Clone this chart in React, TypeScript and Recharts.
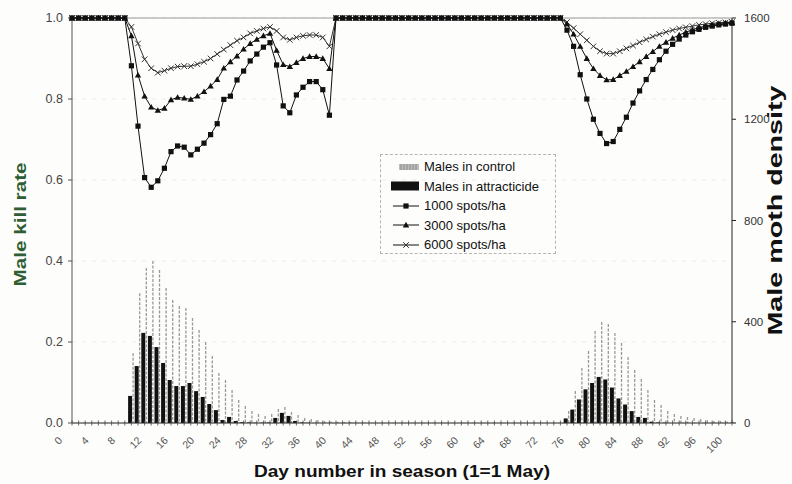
import React from 'react';
import {
  ComposedChart,
  Bar,
  Line,
  XAxis,
  YAxis,
  CartesianGrid,
  ReferenceLine,
  Label
} from 'recharts';

// day axis 0..100, ticks at every day, labels every 4th day
const days = Array.from({ length: 101 }, (_, i) => i);
const killTicks = [0, 0.2, 0.4, 0.6, 0.8, 1.0];
const densityTicks = [0, 400, 800, 1200, 1600];

// kill rate is 1.0 on days without moths
const noMothKillRate = 1.0;

// first flight (days 9..44)
const firstStart = 9;
const controlFirst = [276, 513, 612, 640, 604, 533, 486, 462, 454, 415, 367, 320, 265, 198, 170, 130, 91, 67, 47, 36, 28, 36, 55, 63, 43, 32, 20, 16, 12, 8, 6, 5, 4, 3, 2, 2];
const attractFirst = [107, 225, 356, 344, 300, 237, 170, 146, 146, 158, 126, 103, 75, 51, 12, 24, 8, 3, 2, 1, 1, 2, 20, 40, 28, 8, 2, 1, 0, 0, 0, 0, 0, 0, 0, 0];
// days 9..39
const kill1000First = [0.882, 0.733, 0.606, 0.582, 0.598, 0.629, 0.67, 0.684, 0.681, 0.662, 0.676, 0.691, 0.712, 0.739, 0.799, 0.807, 0.847, 0.869, 0.894, 0.911, 0.928, 0.939, 0.884, 0.783, 0.766, 0.81, 0.829, 0.843, 0.843, 0.823, 0.76];
const kill3000First = [0.956, 0.859, 0.807, 0.78, 0.772, 0.777, 0.798, 0.804, 0.802, 0.799, 0.807, 0.818, 0.832, 0.848, 0.876, 0.892, 0.906, 0.923, 0.937, 0.947, 0.956, 0.962, 0.92, 0.885, 0.88, 0.89, 0.9, 0.905, 0.905, 0.9, 0.875];
const kill6000First = [0.978, 0.937, 0.898, 0.876, 0.865, 0.87, 0.876, 0.88, 0.881, 0.881, 0.886, 0.892, 0.9, 0.911, 0.922, 0.933, 0.944, 0.952, 0.962, 0.968, 0.974, 0.978, 0.968, 0.952, 0.946, 0.952, 0.956, 0.958, 0.958, 0.952, 0.93];

// second flight (days 75..100)
const secondStart = 75;
const controlSecond = [47, 126, 217, 284, 363, 399, 391, 356, 316, 261, 209, 174, 130, 91, 71, 47, 36, 28, 24, 20, 16, 12, 8, 8, 6, 4];
const attractSecond = [18, 53, 93, 133, 158, 182, 172, 140, 97, 73, 47, 24, 20, 5, 2, 1, 0, 0, 0, 0, 0, 0, 0, 0, 0, 0];
const kill1000Second = [0.97, 0.93, 0.86, 0.8, 0.75, 0.715, 0.69, 0.695, 0.725, 0.755, 0.79, 0.82, 0.848, 0.873, 0.897, 0.918, 0.935, 0.948, 0.958, 0.966, 0.972, 0.977, 0.98, 0.983, 0.985, 0.987];
const kill3000Second = [0.985, 0.96, 0.93, 0.9, 0.875, 0.858, 0.847, 0.848, 0.858, 0.868, 0.88, 0.892, 0.905, 0.917, 0.93, 0.94, 0.95, 0.958, 0.965, 0.971, 0.976, 0.98, 0.983, 0.986, 0.988, 0.989];
const kill6000Second = [0.99, 0.975, 0.96, 0.945, 0.93, 0.918, 0.912, 0.912, 0.918, 0.925, 0.932, 0.94, 0.947, 0.954, 0.96, 0.965, 0.97, 0.974, 0.977, 0.98, 0.983, 0.985, 0.987, 0.988, 0.989, 0.99];

const pick = (first: number[], second: number[], day: number, fallback: number) => {
  if (day >= firstStart && day - firstStart < first.length) return first[day - firstStart];
  if (day >= secondStart && day - secondStart < second.length) return second[day - secondStart];
  return fallback;
};

const data = days.map((day) => ({
  day,
  control: pick(controlFirst, controlSecond, day, 0),
  attract: pick(attractFirst, attractSecond, day, 0),
  k1000: pick(kill1000First, kill1000Second, day, noMothKillRate),
  k3000: pick(kill3000First, kill3000Second, day, noMothKillRate),
  k6000: pick(kill6000First, kill6000Second, day, noMothKillRate)
}));

const FONT = '"Liberation Sans", Arial, sans-serif';

const SquareDot = (props: any) => {
  const { cx, cy } = props;
  if (cx == null || cy == null) return null;
  return <rect x={cx - 2.6} y={cy - 2.6} width={5.2} height={5.2} fill="#111" />;
};

const TriangleDot = (props: any) => {
  const { cx, cy } = props;
  if (cx == null || cy == null) return null;
  return <path d={`M${cx},${cy - 3.2}L${cx + 3.2},${cy + 2.4}L${cx - 3.2},${cy + 2.4}Z`} fill="#111" />;
};

const CrossDot = (props: any) => {
  const { cx, cy } = props;
  if (cx == null || cy == null) return null;
  return (
    <path
      d={`M${cx - 2.8},${cy - 2.8}L${cx + 2.8},${cy + 2.8}M${cx - 2.8},${cy + 2.8}L${cx + 2.8},${cy - 2.8}`}
      stroke="#333"
      strokeWidth={1}
    />
  );
};

// thin hatched-looking bar for control males
const HatchBar = (props: any) => {
  const { x, y, width, height } = props;
  if (!height || height <= 0) return null;
  return (
    <line
      x1={x + width / 2}
      x2={x + width / 2}
      y1={y}
      y2={y + height}
      stroke="#999"
      strokeWidth={1.3}
      strokeDasharray="3 1.5"
    />
  );
};

const DayTick = (props: any) => {
  const { x, y, payload } = props;
  const v = payload.value;
  return (
    <g>
      <line x1={x} x2={x} y1={y - 2.5} y2={y + 2.5} stroke="#444" strokeWidth={0.8} />
      {v % 4 === 0 && (
        <text
          transform={`translate(${x - 9},${y + 18}) rotate(-45)`}
          textAnchor="end"
          fontSize={10.5}
          fontFamily={FONT}
          fill="#555"
        >
          {v}
        </text>
      )}
    </g>
  );
};

const Title = ({ text, cx, cy, angle, length, size, color }: any) => (
  <text
    x={cx}
    y={cy}
    transform={angle ? `rotate(${angle},${cx},${cy})` : undefined}
    textAnchor="middle"
    dominantBaseline="central"
    fontFamily={FONT}
    fontWeight="bold"
    fontSize={size}
    fill={color}
    textLength={length}
    lengthAdjust="spacingAndGlyphs"
  >
    {text}
  </text>
);

const LegendIcon = ({ kind }: { kind: string }) => (
  <svg width={32} height={12} style={{ marginRight: 3, flex: 'none' }}>
    {kind === 'control' && (
      <g>
        <rect x={10} y={3} width={20} height={6} fill="#bdbdbd" />
        <path d="M12,3V9M15,3V9M18,3V9M21,3V9M24,3V9M27,3V9" stroke="#8a8a8a" strokeWidth={1} />
      </g>
    )}
    {kind === 'attract' && <rect x={2} y={1.5} width={28} height={9} fill="#111" />}
    {kind !== 'control' && kind !== 'attract' && <line x1={4} x2={30} y1={6} y2={6} stroke="#111" strokeWidth={1} />}
    {kind === 'k1000' && <SquareDot cx={17} cy={6} />}
    {kind === 'k3000' && <TriangleDot cx={17} cy={6} />}
    {kind === 'k6000' && <CrossDot cx={17} cy={6} />}
  </svg>
);

const legendItems = [
  { kind: 'control', label: 'Males in control' },
  { kind: 'attract', label: 'Males in attracticide' },
  { kind: 'k1000', label: '1000 spots/ha' },
  { kind: 'k3000', label: '3000 spots/ha' },
  { kind: 'k6000', label: '6000 spots/ha' }
];

export default function App() {
  return (
    <div
      style={{
        position: 'absolute',
        left: 0,
        top: 0,
        width: 792,
        height: 484,
        background: '#fdfdfb',
        fontFamily: FONT
      }}
    >
      <ComposedChart
        width={792}
        height={484}
        data={data}
        margin={{ top: 18, right: 10, bottom: 6, left: 18 }}
        barGap={0}
        barCategoryGap={0}
      >
        <CartesianGrid
          yAxisId="left"
          vertical={false}
          horizontal
          stroke="#ececec"
          strokeDasharray="4 6"
        />
        <XAxis
          dataKey="day"
          type="number"
          domain={[0, 100]}
          ticks={days}
          interval={0}
          tick={<DayTick />}
          tickLine={false}
          tickSize={0}
          tickMargin={0}
          height={55}
          axisLine={{ stroke: '#222' }}
        >
          <Label
            content={(p: any) => (
              <Title
                text="Day number in season (1=1 May)"
                cx={p.viewBox.x + p.viewBox.width / 2}
                cy={p.viewBox.y + 48}
                length={296}
                size={17}
                color="#111"
              />
            )}
          />
        </XAxis>
        <YAxis
          yAxisId="left"
          domain={[0, 1]}
          ticks={killTicks}
          tickFormatter={(v: number) => v.toFixed(1)}
          width={54}
          tickSize={4}
          tickMargin={5}
          axisLine={{ stroke: '#555' }}
          tickLine={{ stroke: '#555' }}
          tick={{ fill: '#444', fontSize: 12.5, fontFamily: FONT }}
        >
          <Label
            content={(p: any) => (
              <Title
                text="Male kill rate"
                cx={p.viewBox.x + 2}
                cy={p.viewBox.y + p.viewBox.height / 2 + 4}
                angle={-90}
                length={124}
                size={16}
                color="#2f5e34"
              />
            )}
          />
        </YAxis>
        <YAxis
          yAxisId="right"
          orientation="right"
          domain={[0, 1600]}
          ticks={densityTicks}
          width={50}
          tickSize={4}
          tickMargin={8}
          axisLine={{ stroke: '#222' }}
          tickLine={{ stroke: '#222' }}
          tick={{ fill: '#333', fontSize: 11.5, fontFamily: FONT }}
        >
          <Label
            content={(p: any) => (
              <Title
                text="Male moth density"
                cx={p.viewBox.x + 43}
                cy={p.viewBox.y + p.viewBox.height / 2 - 10}
                angle={-90}
                length={250}
                size={20}
                color="#111"
              />
            )}
          />
        </YAxis>
        <ReferenceLine yAxisId="left" y={1} stroke="#999" strokeWidth={1} />

        <Bar yAxisId="right" dataKey="attract" fill="#111" barSize={4} isAnimationActive={false} />
        <Bar yAxisId="right" dataKey="control" fill="#999" barSize={2} shape={<HatchBar />} isAnimationActive={false} />

        <Line
          yAxisId="left"
          dataKey="k6000"
          stroke="#333"
          strokeWidth={1}
          dot={(p: any) => <CrossDot key={`c-${p.index}`} cx={p.cx} cy={p.cy} />}
          activeDot={false}
          isAnimationActive={false}
        />
        <Line
          yAxisId="left"
          dataKey="k3000"
          stroke="#111"
          strokeWidth={1}
          dot={(p: any) => <TriangleDot key={`t-${p.index}`} cx={p.cx} cy={p.cy} />}
          activeDot={false}
          isAnimationActive={false}
        />
        <Line
          yAxisId="left"
          dataKey="k1000"
          stroke="#111"
          strokeWidth={1}
          dot={(p: any) => <SquareDot key={`s-${p.index}`} cx={p.cx} cy={p.cy} />}
          activeDot={false}
          isAnimationActive={false}
        />
      </ComposedChart>

      <div
        style={{
          position: 'absolute',
          left: 380,
          top: 154,
          width: 176,
          height: 100,
          border: '1px dashed #b5b5b5',
          boxSizing: 'border-box',
          padding: '2px 0 0 8px',
          fontSize: 13,
          color: '#111'
        }}
      >
        {legendItems.map((it) => (
          <div key={it.kind} style={{ display: 'flex', alignItems: 'center', height: 19.5 }}>
            <LegendIcon kind={it.kind} />
            <span>{it.label}</span>
          </div>
        ))}
      </div>
    </div>
  );
}
